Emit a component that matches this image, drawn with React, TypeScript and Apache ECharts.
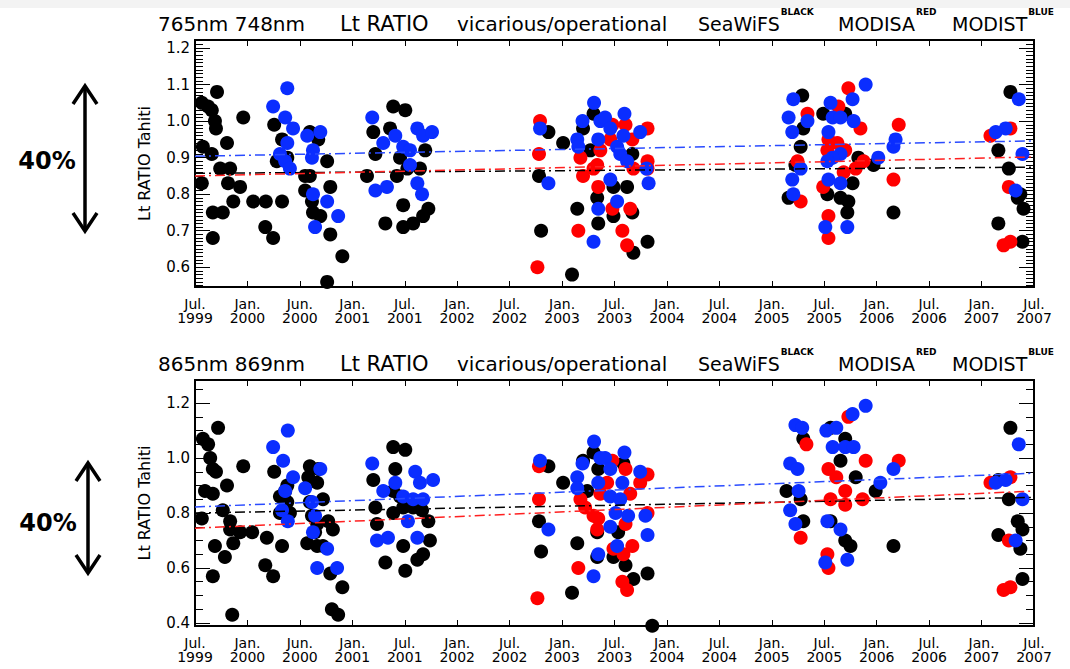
import React, { useEffect, useRef } from "react";
import * as echarts from "echarts";

const X_LABELS = ["Jul.\n1999","Jan.\n2000","Jun.\n2000","Jan.\n2001","Jul.\n2001","Jan.\n2002","Jul.\n2002","Jan.\n2003","Jul.\n2003","Jan.\n2004","Jul.\n2004","Jan.\n2005","Jul.\n2005","Jan.\n2006","Jul.\n2006","Jan.\n2007","Jul.\n2007"];

const TOP_Y_MAJOR = [0.6, 0.7, 0.8, 0.9, 1.0, 1.1, 1.2];
const BOT_Y_MAJOR = [0.4, 0.6, 0.8, 1.0, 1.2];
const TOP_RANGE = [0.546, 1.222];
const BOT_RANGE = [0.389, 1.284];

// Panel 1: 765nm / 748nm
const TOP_BLACK = [
  [0.13,1.05],[0.25,1.04],[0.32,1.03],[0.38,1.0],[0.42,1.08],[0.4,0.98],[0.15,0.93],[0.32,0.91],[0.48,0.87],[0.61,0.94],
  [0.67,0.87],[0.63,0.83],[0.86,0.82],[0.13,0.83],[0.34,0.75],[0.53,0.75],[0.73,0.78],[0.34,0.68],[0.92,1.01],[1.11,0.78],
  [1.35,0.78],[1.66,0.78],[1.34,0.71],[1.49,0.68],[1.51,0.99],[1.66,0.95],[1.56,0.89],[1.76,0.9],[2.1,0.81],[2.1,0.85],
  [2.23,0.78],[2.25,0.75],[2.39,0.74],[2.52,0.89],[2.58,0.82],[2.35,0.95],[2.19,0.97],[2.58,0.69],[2.81,0.63],[2.52,0.56],
  [2.19,0.85],[3.4,0.97],[3.44,0.91],[3.28,0.85],[3.63,0.72],[3.78,1.04],[3.72,0.98],[3.97,0.77],[4.01,1.03],[3.97,0.71],
  [4.16,0.72],[4.35,0.74],[3.91,0.9],[4.05,0.87],[4.29,0.87],[3.85,0.85],[4.45,0.76],[4.39,0.92],
  [6.74,0.97],[6.56,0.85],[6.6,0.7],[7.19,0.58],[7.29,0.76],[7.02,0.94],[7.4,0.98],[7.6,1.02],[7.69,0.72],[7.67,0.79],
  [7.98,0.82],[8.24,0.82],[7.98,0.74],[8.34,0.75],[8.36,0.64],[8.63,0.67],[7.54,0.92],[8.34,0.91],
  [11.58,1.07],[11.6,0.98],[11.55,0.93],[11.45,0.88],[11.32,0.79],[11.98,1.02],[12.4,1.02],[12.06,0.8],[12.31,0.79],[12.54,0.83],
  [12.46,0.78],[12.44,0.75],[12.65,0.9],[12.94,0.88],[13.32,0.75],[15.55,1.08],[15.32,0.92],[15.52,0.87],[15.32,0.72],[15.78,0.67],
  [15.69,0.79],[15.8,0.76],[15.74,0.8]
];
const TOP_RED = [
  [6.58,1.0],[6.56,0.91],[6.53,0.6],[7.31,0.7],[7.35,0.9],[7.4,0.85],[7.67,0.88],[7.69,0.82],[7.73,0.92],[7.96,0.99],
  [7.92,0.95],[8.21,0.99],[8.34,0.95],[8.3,0.76],[7.96,0.76],[8.15,0.7],[8.24,0.66],[8.63,0.98],[8.63,0.89],[8.63,0.87],
  [8.36,0.87],[7.6,0.87],
  [11.68,1.02],[11.55,0.78],[11.49,0.89],[12.46,1.09],[12.27,1.04],[12.08,0.95],[12.25,0.94],[12.06,0.92],[12.4,0.92],[12.69,0.98],
  [12.37,0.86],[12.6,0.87],[12.75,0.89],[11.98,0.82],[12.08,0.74],[12.08,0.68],[13.42,0.99],[13.32,0.84],[15.17,0.96],[15.55,0.98],
  [15.52,0.82],[15.42,0.66],[15.55,0.67]
];
const TOP_BLUE = [
  [1.49,1.04],[1.76,1.09],[1.72,1.01],[1.87,0.98],[1.76,0.94],[1.62,0.91],[1.72,0.89],[1.81,0.87],[2.14,0.96],[2.39,0.97],
  [2.25,0.92],[2.23,0.9],[2.25,0.8],[2.52,0.78],[2.73,0.74],[2.29,0.71],[3.38,1.01],[3.59,0.94],[3.82,0.96],[3.97,0.93],
  [4.1,0.92],[3.44,0.81],[3.66,0.82],[4.1,0.88],[4.24,0.98],[4.35,0.96],[4.24,0.83],[4.33,0.8],[4.52,0.97],
  [7.61,1.05],[6.58,0.98],[6.74,0.83],[7.29,0.95],[7.39,1.0],[7.73,1.0],[7.82,1.01],[7.92,0.98],[8.19,1.02],[7.69,0.95],
  [8.05,0.93],[8.17,0.96],[8.11,0.91],[8.24,0.89],[7.92,0.84],[8.05,0.78],[7.69,0.76],[7.6,0.67],[8.49,0.97],[8.61,0.87],
  [8.65,0.83],[7.31,0.93],
  [11.41,1.06],[11.32,1.01],[11.39,0.97],[11.68,1.0],[11.39,0.84],[11.41,0.8],[11.55,0.87],[12.12,1.05],[12.54,1.06],[12.79,1.1],
  [12.16,1.01],[12.31,1.01],[12.08,0.97],[12.56,1.0],[12.31,0.91],[12.16,0.9],[12.06,0.89],[12.08,0.84],[12.31,0.83],[12.02,0.71],
  [12.44,0.71],[13.03,0.9],[13.32,0.93],[13.36,0.95],[15.46,0.98],[15.27,0.97],[15.71,1.06],[15.78,0.91],[15.65,0.81]
];
const TOP_TREND_BLACK = [0.857, 0.874];
const TOP_TREND_RED = [0.85, 0.902];
const TOP_TREND_BLUE = [0.904, 0.946];

// Panel 2: 865nm / 869nm
const BOT_BLACK = [
  [0.15,1.07],[0.25,1.05],[0.29,1.0],[0.44,1.11],[0.34,0.96],[0.4,0.95],[0.19,0.88],[0.34,0.87],[0.13,0.78],[0.38,0.68],
  [0.34,0.57],[0.57,0.64],[0.61,0.9],[0.53,0.81],[0.67,0.77],[0.67,0.74],[0.73,0.69],[0.86,0.73],[1.09,0.73],[0.92,0.97],
  [0.71,0.43],[1.34,0.61],[1.49,0.57],[1.37,0.71],[1.66,0.68],[1.51,0.95],[1.62,0.86],[1.72,0.88],[1.76,0.84],[1.81,0.8],
  [1.62,0.8],[1.76,0.9],[2.19,0.97],[2.35,0.96],[2.33,0.91],[2.16,0.93],[2.19,0.84],[2.23,0.79],[2.14,0.69],[2.33,0.68],
  [2.44,0.68],[2.29,0.73],[2.33,0.76],[2.54,0.77],[2.63,0.74],[2.58,0.58],[2.81,0.53],[2.61,0.45],[2.73,0.43],[2.44,0.85],
  [3.4,0.92],[3.44,0.82],[3.47,0.76],[3.63,0.62],[3.78,1.04],[4.01,1.03],[3.82,0.96],[3.91,0.86],[3.97,0.82],[3.78,0.8],
  [3.97,0.68],[4.01,0.59],[4.24,0.63],[4.35,0.65],[3.78,0.88],[4.16,0.82],[4.33,0.81],[4.48,0.7],[4.45,0.77],
  [6.74,0.97],[6.56,0.77],[6.6,0.66],[7.19,0.51],[7.29,0.69],[7.02,0.91],[7.4,0.99],[7.6,1.02],[7.69,0.96],[8.17,0.98],
  [7.67,0.64],[7.98,0.64],[8.21,0.61],[8.36,0.56],[8.63,0.58],[8.07,0.73],[7.67,0.73],[7.48,0.88],[8.72,0.39],
  [11.6,1.07],[11.55,0.85],[11.6,0.77],[11.28,0.88],[12.12,1.11],[12.4,1.07],[12.31,0.99],[12.6,0.93],[12.12,0.77],[12.4,0.7],
  [12.5,0.68],[12.98,0.88],[13.32,0.68],[15.55,1.11],[15.32,0.92],[15.52,0.85],[15.32,0.72],[15.69,0.77],[15.78,0.74],[15.74,0.67],
  [15.78,0.56]
];
const BOT_RED = [
  [6.56,0.97],[6.56,0.85],[6.53,0.49],[7.31,0.6],[7.35,0.85],[7.44,0.82],[7.6,0.79],[7.69,0.78],[7.73,0.87],[7.96,0.99],
  [7.86,0.91],[8.21,0.96],[8.3,0.87],[8.49,0.91],[8.63,0.94],[8.63,0.8],[8.21,0.76],[8.34,0.68],[8.17,0.65],[7.98,0.67],
  [8.15,0.55],[8.24,0.52],[7.67,0.74],
  [11.66,1.05],[11.55,0.71],[12.46,1.15],[12.08,0.96],[12.23,0.93],[12.4,0.88],[12.12,0.85],[12.4,0.83],[12.73,0.85],[12.06,0.65],
  [12.08,0.6],[12.79,0.99],[13.42,0.99],[15.17,0.91],[15.55,0.93],[15.42,0.52],[15.55,0.53],[15.52,0.7]
];
const BOT_BLUE = [
  [1.49,1.04],[1.77,1.1],[1.68,0.99],[1.87,0.93],[1.72,0.88],[1.66,0.81],[1.77,0.77],[2.1,0.89],[2.39,0.96],[2.23,0.84],
  [2.29,0.79],[2.25,0.73],[2.52,0.67],[2.33,0.6],[2.71,0.6],[3.38,0.98],[3.59,0.88],[3.82,0.91],[3.97,0.86],[4.2,0.95],
  [4.29,0.91],[4.16,0.85],[4.35,0.85],[3.47,0.7],[3.68,0.71],[4.06,0.77],[4.24,0.71],[4.54,0.92],
  [7.61,1.06],[6.58,0.99],[6.74,0.74],[7.29,0.93],[7.39,0.98],[7.73,1.0],[7.82,1.0],[7.92,0.96],[8.19,1.02],[7.69,0.91],
  [8.15,0.91],[8.49,0.95],[7.92,0.86],[8.11,0.85],[8.02,0.8],[8.26,0.79],[8.59,0.79],[7.92,0.75],[8.63,0.72],[8.05,0.68],
  [7.69,0.65],[7.6,0.57],[7.29,0.89],
  [11.45,1.12],[11.58,1.11],[11.35,0.98],[11.49,0.96],[11.51,0.88],[11.35,0.81],[11.45,0.76],[12.04,1.1],[12.23,1.11],[12.54,1.16],
  [12.16,1.04],[12.4,1.04],[12.56,1.04],[12.06,0.77],[12.31,0.74],[12.02,0.62],[12.44,0.63],[12.79,1.19],[13.07,0.91],[13.32,0.96],
  [15.27,0.91],[15.46,0.92],[15.71,1.05],[15.78,0.85],[15.65,0.7]
];
const BOT_TREND_BLACK = [0.8, 0.857];
const BOT_TREND_RED = [0.745, 0.88];
const BOT_TREND_BLUE = [0.822, 0.945];

const FONT = "DejaVu Sans";
const C_BLACK = "#000000";
const C_RED = "#ff0000";
const C_BLUE = "#0a2dff";

function minorList(from: number, to: number, step: number) {
  const out: number[] = [];
  const n = Math.round((to - from) / step);
  for (let i = 0; i <= n; i++) out.push(Math.round((from + i * step) * 1000) / 1000);
  return out;
}
const TOP_Y_MINOR = minorList(0.55, 1.22, 0.01);
const BOT_Y_MINOR = minorList(0.4, 1.25, 0.05);

function xAxes(gi: number) {
  const base = {
    type: "value",
    gridIndex: gi,
    min: 0,
    max: 16,
    interval: 1,
    splitLine: { show: false },
    axisLine: { show: true, onZero: false, lineStyle: { color: "#000", width: 2 } },
    axisTick: { show: true, inside: true, length: 6, lineStyle: { color: "#000", width: 1 } },
  };
  return [
    {
      ...base,
      position: "bottom",
      axisLabel: {
        show: true,
        color: "#000",
        fontFamily: FONT,
        fontSize: 14,
        lineHeight: 14,
        margin: 10,
        formatter: (v: number) => X_LABELS[Math.round(v)] ?? "",
      },
    },
    { ...base, position: "top", axisLabel: { show: false } },
  ];
}

function yAxes(gi: number, range: number[], majors: number[], minors: number[]) {
  const base = {
    type: "value",
    gridIndex: gi,
    min: range[0],
    max: range[1],
    splitLine: { show: false },
    axisLine: { show: true, onZero: false, lineStyle: { color: "#000", width: 2 } },
  };
  const majTick = { show: true, inside: true, length: 15, customValues: majors, lineStyle: { color: "#000", width: 1 } };
  const minTick = { show: true, inside: true, length: 8, customValues: minors, lineStyle: { color: "#000", width: 1 } };
  return [
    {
      ...base,
      position: "left",
      axisTick: majTick,
      axisLabel: {
        show: true,
        customValues: majors,
        color: "#000",
        fontFamily: FONT,
        fontSize: 15,
        margin: 5,
        formatter: (v: number) => v.toFixed(1),
      },
      name: "Lt RATIO Tahiti",
      nameLocation: "middle",
      nameGap: 43,
      nameTextStyle: { color: "#000", fontFamily: FONT, fontSize: 16 },
    },
    { ...base, position: "left", axisTick: minTick, axisLabel: { show: false } },
    { ...base, position: "right", axisTick: majTick, axisLabel: { show: false } },
    { ...base, position: "right", axisTick: minTick, axisLabel: { show: false } },
  ];
}

function scatter(data: number[][], color: string, xi: number, yi: number, z: number) {
  return {
    type: "scatter",
    xAxisIndex: xi,
    yAxisIndex: yi,
    data,
    symbol: "circle",
    symbolSize: 14,
    itemStyle: { color, opacity: 1 },
    z,
    silent: true,
  };
}

function trend(vals: number[], color: string, xi: number, yi: number) {
  return {
    type: "line",
    xAxisIndex: xi,
    yAxisIndex: yi,
    data: [[0, vals[0]], [16, vals[1]]],
    symbol: "none",
    lineStyle: { color, width: 1.5, type: [10, 4, 2, 4] },
    z: 10,
    silent: true,
  };
}

const RICH = {
  m: { fontFamily: FONT, fontSize: 19, lineHeight: 26, color: "#000", verticalAlign: "bottom" },
  s: { fontFamily: FONT, fontSize: 9, fontWeight: "bold", lineHeight: 12, color: "#000", verticalAlign: "top", padding: [0, 0, 0, 1] },
};

function titleTexts(y: number, nm1: string) {
  const t = (text: string, x: number, size: number) => ({
    type: "text",
    x,
    y,
    style: { text, fill: "#000", font: `normal ${size}px "${FONT}"`, textVerticalAlign: "middle", textAlign: "left" },
  });
  const r = (main: string, sup: string, x: number) => ({
    type: "text",
    x,
    y: y - 17,
    style: { text: `{m|${main}}{s|${sup}}`, rich: RICH, textVerticalAlign: "top", textAlign: "left" },
  });
  return [
    t(nm1, 158, 20),
    t("Lt RATIO", 340, 21),
    t("vicarious/operational", 457, 20),
    r("SeaWiFS", "BLACK", 698),
    r("MODISA", "RED", 838),
    r("MODIST", "BLUE", 952),
  ];
}

function arrow(x: number, y1: number, y2: number, tx: number, ty: number) {
  const ls = { stroke: "#000", lineWidth: 3.5, fill: null };
  return [
    { type: "line", shape: { x1: x, y1: y1 + 2, x2: x, y2: y2 - 2 }, style: ls },
    { type: "polyline", shape: { points: [[x - 12, y1 + 19], [x, y1 + 1], [x + 12, y1 + 19]] }, style: ls },
    { type: "polyline", shape: { points: [[x - 12, y2 - 19], [x, y2 - 1], [x + 12, y2 - 19]] }, style: ls },
    {
      type: "text",
      x: tx,
      y: ty,
      style: { text: "40%", fill: "#000", font: `bold 24px "${FONT}"`, textAlign: "center", textVerticalAlign: "middle" },
    },
  ];
}

export default function App() {
  const ref = useRef<HTMLDivElement>(null);
  useEffect(() => {
    if (!ref.current) return;
    const chart = echarts.init(ref.current, null, { renderer: "svg" });
    const option = {
      animation: false,
      backgroundColor: "#ffffff",
      textStyle: { fontFamily: FONT },
      grid: [
        { left: 195, top: 40, width: 839, height: 247 },
        { left: 195, top: 380, width: 839, height: 246 },
      ],
      xAxis: [...xAxes(0), ...xAxes(1)],
      yAxis: [
        ...yAxes(0, TOP_RANGE, TOP_Y_MAJOR, TOP_Y_MINOR),
        ...yAxes(1, BOT_RANGE, BOT_Y_MAJOR, BOT_Y_MINOR),
      ],
      series: [
        scatter(TOP_BLACK, C_BLACK, 0, 0, 2),
        scatter(TOP_RED, C_RED, 0, 0, 3),
        scatter(TOP_BLUE, C_BLUE, 0, 0, 4),
        trend(TOP_TREND_BLACK, "#000000", 0, 0),
        trend(TOP_TREND_RED, "#ff2020", 0, 0),
        trend(TOP_TREND_BLUE, "#2a4bff", 0, 0),
        scatter(BOT_BLACK, C_BLACK, 2, 4, 2),
        scatter(BOT_RED, C_RED, 2, 4, 3),
        scatter(BOT_BLUE, C_BLUE, 2, 4, 4),
        trend(BOT_TREND_BLACK, "#000000", 2, 4),
        trend(BOT_TREND_RED, "#ff2020", 2, 4),
        trend(BOT_TREND_BLUE, "#2a4bff", 2, 4),
      ],
      graphic: [
        { type: "rect", shape: { x: 0, y: 0, width: 1070, height: 8 }, style: { fill: "#f3f3f3" }, z: -1 },
        ...titleTexts(24, "765nm 748nm"),
        ...titleTexts(364, "865nm 869nm"),
        ...arrow(85, 85, 232, 47, 161),
        ...arrow(88, 462, 574, 48, 523),
      ],
    };
    chart.setOption(option as any);
    return () => chart.dispose();
  }, []);
  return <div ref={ref} style={{ position: "fixed", left: 0, top: 0, width: 1070, height: 669 }} />;
}
